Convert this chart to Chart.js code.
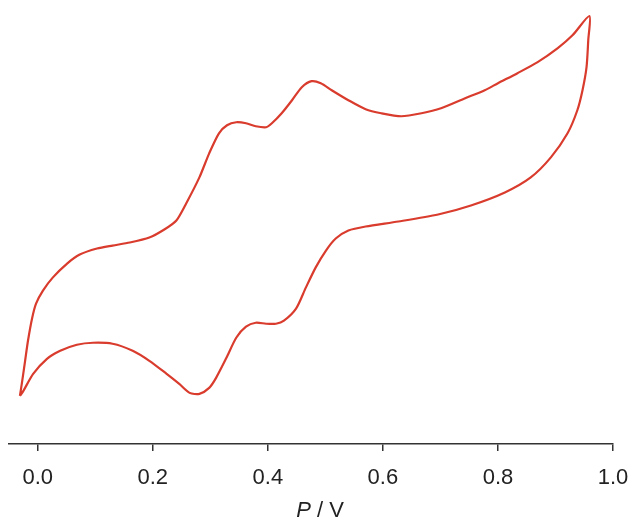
<!DOCTYPE html>
<html>
<head>
<meta charset="utf-8">
<script src="https://cdn.jsdelivr.net/npm/chart.js@4/dist/chart.umd.min.js"></script>
<style>
  html, body { margin: 0; padding: 0; background: #fff; }
  #wrap { width: 632px; height: 520px; }
</style>
</head>
<body>
<div id="wrap"><canvas id="cv"></canvas></div>
<script>
// forward sweep (anodic), potential in V and current in arbitrary units
const fwdPotential = [-0.031, -0.027, -0.022, -0.017, -0.010, -0.003, 0.009, 0.026, 0.051, 0.073,
  0.103, 0.130, 0.160, 0.194, 0.220, 0.241, 0.258, 0.281, 0.298, 0.315,
  0.329, 0.345, 0.362, 0.379, 0.397, 0.407, 0.424, 0.442, 0.459, 0.476,
  0.492, 0.511, 0.540, 0.570, 0.597, 0.632, 0.667, 0.701, 0.743, 0.777,
  0.800, 0.834, 0.869, 0.904, 0.930, 0.959]
const fwdCurrent = [-8.25, -7.5, -6.5, -5.5, -4.4, -3.65, -3.0, -2.35, -1.65, -1.2,
  -0.9, -0.75, -0.6, -0.35, 0.05, 0.5, 1.35, 2.65, 3.85, 4.85,
  5.25, 5.4, 5.35, 5.2, 5.15, 5.35, 5.85, 6.5, 7.15, 7.45,
  7.35, 7.0, 6.5, 6.05, 5.85, 5.7, 5.85, 6.1, 6.6, 7.0,
  7.35, 7.85, 8.4, 9.1, 9.75, 10.7]

// reverse sweep (cathodic)
const revPotential = [0.959, 0.957, 0.954, 0.947, 0.938, 0.921, 0.892, 0.857, 0.812, 0.753,
  0.696, 0.627, 0.570, 0.540, 0.518, 0.501, 0.483, 0.466, 0.449, 0.428,
  0.414, 0.397, 0.379, 0.362, 0.345, 0.328, 0.310, 0.298, 0.281, 0.264,
  0.246, 0.224, 0.194, 0.165, 0.130, 0.096, 0.068, 0.039, 0.016, -0.008,
  -0.025, -0.031]
const revCurrent = [10.7, 9.5, 8.15, 7.0, 6.0, 4.85, 3.65, 2.65, 1.9, 1.25,
  0.8, 0.45, 0.2, 0.0, -0.4, -1.0, -1.85, -2.85, -3.9, -4.5,
  -4.65, -4.65, -4.6, -4.8, -5.35, -6.35, -7.35, -7.85, -8.15, -8.1,
  -7.65, -7.15, -6.5, -6.0, -5.65, -5.6, -5.7, -6.0, -6.4, -7.15,
  -8.0, -8.25]

const xTicks = [0.0, 0.2, 0.4, 0.6, 0.8, 1.0]

const pts = (xs, ys) => xs.map((x, i) => ({x: x, y: ys[i]}))
const loop = pts(fwdPotential, fwdCurrent).concat(pts(revPotential, revCurrent).slice(1))

const FONT = '"Liberation Sans", Arial, sans-serif'

// axis title with italic P, drawn by hand
const italicTitle = {
  id: 'italicTitle',
  afterDraw(chart) {
    const c = chart.ctx
    const size = 22
    c.save()
    c.fillStyle = '#222'
    c.textBaseline = 'alphabetic'
    c.textAlign = 'left'
    c.font = 'italic ' + size + 'px ' + FONT
    const wP = c.measureText('P').width
    c.font = size + 'px ' + FONT
    const wR = c.measureText(' / V').width
    const cx = chart.width / 2 + 4
    const y = chart.chartArea.bottom + 73
    const x0 = cx - (wP + wR) / 2
    c.font = 'italic ' + size + 'px ' + FONT
    c.fillText('P', x0, y)
    c.font = size + 'px ' + FONT
    c.fillText(' / V', x0 + wP, y)
    c.restore()
  }
}

new Chart(document.getElementById('cv'), {
  type: 'scatter',
  data: {
    datasets: [{
      data: loop,
      showLine: true,
      borderColor: '#d93b2d',
      borderWidth: 2.2,
      pointRadius: 0,
      tension: 0.25
    }]
  },
  options: {
    responsive: true,
    maintainAspectRatio: false,
    animation: false,
    layout: { padding: { left: 9, right: 19, top: 0, bottom: 0 } },
    plugins: { legend: { display: false }, tooltip: { enabled: false } },
    scales: {
      x: {
        type: 'linear',
        min: -0.05,
        max: 1.0,
        afterBuildTicks: (scale) => { scale.ticks = xTicks.map(v => ({value: v})) },
        afterFit: (scale) => {
          scale.height = 76
          scale.paddingLeft = 0
          scale.paddingRight = 0
        },
        ticks: {
          color: '#222',
          font: { family: FONT, size: 22 },
          padding: 14,
          maxRotation: 0,
          callback: (v) => Number(v).toFixed(1)
        },
        grid: { drawOnChartArea: false, tickLength: 7, color: '#333', lineWidth: 1.5 },
        border: { color: '#333', width: 1.5 }
      },
      y: {
        display: false,
        min: -10.65,
        max: 11.5
      }
    }
  },
  plugins: [italicTitle]
})
</script>
</body>
</html>
